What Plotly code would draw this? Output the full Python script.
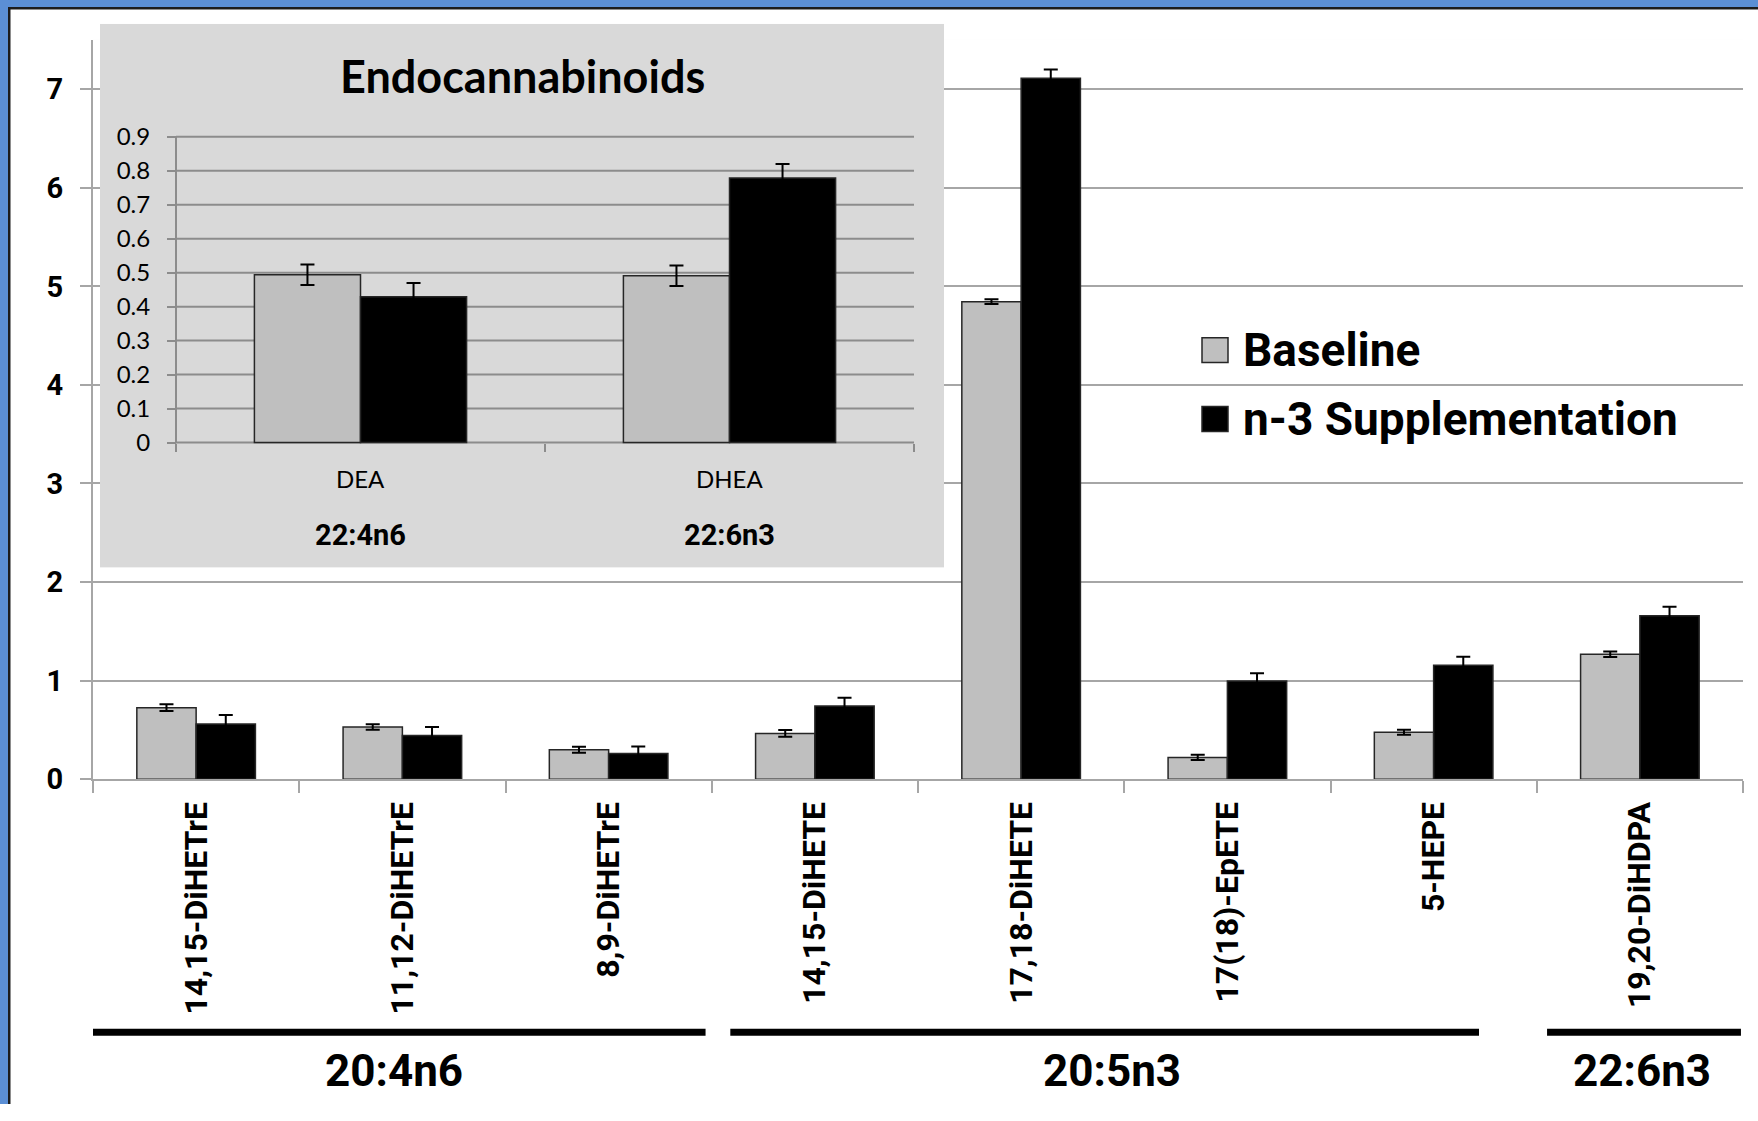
import plotly.graph_objects as go

# ---------------------------------------------------------------- data
CATEGORIES = ["14,15-DiHETrE", "11,12-DiHETrE", "8,9-DiHETrE", "14,15-DiHETE",
              "17,18-DiHETE", "17(18)-EpETE", "5-HEPE", "19,20-DiHDPA"]
SERIES_NAMES = ["Baseline", "n-3 Supplementation"]
BASELINE = [0.725, 0.529, 0.298, 0.464, 4.845, 0.220, 0.476, 1.267]
BASELINE_ERR = [0.034, 0.027, 0.030, 0.034, 0.025, 0.027, 0.025, 0.027]
SUPPLEMENT = [0.559, 0.444, 0.261, 0.742, 7.112, 0.997, 1.155, 1.659]
SUPPLEMENT_ERR = [0.092, 0.085, 0.071, 0.085, 0.088, 0.077, 0.088, 0.090]
Y_TICKS = [0, 1, 2, 3, 4, 5, 6, 7]

# fatty-acid families spanning the categories: (label, first index, last index)
GROUPS = [("20:4n6", 0, 2), ("20:5n3", 3, 6), ("22:6n3", 7, 7)]

INSET_TITLE = "Endocannabinoids"
INSET_CATEGORIES = ["DEA", "DHEA"]
INSET_FATTY_ACIDS = ["22:4n6", "22:6n3"]
INSET_BASELINE = [0.494, 0.491]
INSET_BASELINE_ERR = [0.030, 0.030]
INSET_SUPPLEMENT = [0.429, 0.779]
INSET_SUPPLEMENT_ERR = [0.041, 0.041]
INSET_TICKS = [0, 0.1, 0.2, 0.3, 0.4, 0.5, 0.6, 0.7, 0.8, 0.9]

# ---------------------------------------------------------------- layout constants (px from top-left)
W, H = 1758, 1121
Y_SCALE = 1137 / 1121          # vertical scale applied to every pixel row below
MAIN_L, MAIN_R, MAIN_T, MAIN_B = 93, 1743, 40, 780
Y_MAX = 7.5
BOX_L, BOX_R, BOX_T, BOX_B = 100, 944, 24, 568          # grey inset panel
IN_L, IN_R, IN_TOP_PX, IN_ZERO_PX = 176, 914, 137, 443   # inset plotting frame
BRACKET_PAD = [(-0.02, -0.03), (0.09, -0.28), (0.05, -0.01)]
GROUP_LABEL_SHIFT = [-0.04, -0.06, 0.01]                 # in category widths
BRACKET_Y, LABEL_Y = 1033.5, 1072

GREY = "#bfbfbf"
BLACK = "#000000"
EDGE = "#262626"
GRID = "#a6a6a6"
IN_GRID = "#8c8c8c"
PANEL = "#d9d9d9"
FRAME_BLUE = "#5b8fd5"
SANS = "Roboto, Liberation Sans, Arial, sans-serif"
CALIBRI = "Lato, Carlito, Calibri, sans-serif"


def fx(px):
    return px / W


def fy(px):
    return 1 - px * Y_SCALE / H


# inset axis ranges derived from the pixel frame
in_unit = (IN_ZERO_PX - IN_TOP_PX) / INSET_TICKS[-1]
y2_range = [-(BOX_B - IN_ZERO_PX) / in_unit, INSET_TICKS[-1] + (IN_TOP_PX - BOX_T) / in_unit]
cat_px = (IN_R - IN_L) / len(INSET_CATEGORIES)
x2_range = [-0.5 - (IN_L - BOX_L) / cat_px, len(INSET_CATEGORIES) - 0.5 + (BOX_R - IN_R) / cat_px]

fig = go.Figure()

err_style = dict(type="data", color=BLACK, thickness=2, width=7, visible=True)

for name, vals, errs, col in [(SERIES_NAMES[0], BASELINE, BASELINE_ERR, GREY),
                              (SERIES_NAMES[1], SUPPLEMENT, SUPPLEMENT_ERR, BLACK)]:
    fig.add_trace(go.Bar(
        x=CATEGORIES, y=vals, name=name, showlegend=False,
        marker=dict(color=col, line=dict(color=EDGE, width=1.5)),
        error_y=dict(array=errs, **err_style),
        xaxis="x", yaxis="y", hoverinfo="x+y+name"))

for name, vals, errs, col in [(SERIES_NAMES[0], INSET_BASELINE, INSET_BASELINE_ERR, GREY),
                              (SERIES_NAMES[1], INSET_SUPPLEMENT, INSET_SUPPLEMENT_ERR, BLACK)]:
    fig.add_trace(go.Bar(
        x=INSET_CATEGORIES, y=vals, name=name, showlegend=False,
        marker=dict(color=col, line=dict(color=EDGE, width=1.5)),
        error_y=dict(array=errs, **err_style),
        xaxis="x2", yaxis="y2", hoverinfo="x+y+name"))

shapes = []
annotations = []

# white background for the main plotting area (plot_bgcolor is the inset grey)
shapes.append(dict(type="rect", xref="paper", yref="paper", layer="below",
                   x0=fx(MAIN_L), x1=fx(MAIN_R), y0=fy(MAIN_B), y1=fy(MAIN_T),
                   fillcolor="white", line=dict(width=0)))

# inset gridlines and axis line
for t in INSET_TICKS:
    shapes.append(dict(type="line", xref="x2", yref="y2", layer="below",
                       x0=-0.5, x1=len(INSET_CATEGORIES) - 0.5, y0=t, y1=t,
                       line=dict(color=IN_GRID, width=2)))
shapes.append(dict(type="line", xref="x2", yref="y2", layer="below",
                   x0=-0.5, x1=-0.5, y0=0, y1=INSET_TICKS[-1],
                   line=dict(color=IN_GRID, width=2)))

# inset title and category labels
annotations.append(dict(text="<b>%s</b>" % INSET_TITLE, xref="paper", yref="paper",
                        x=fx((BOX_L + BOX_R) / 2), y=fy(76), showarrow=False,
                        xanchor="center", yanchor="middle",
                        font=dict(family=CALIBRI, size=45, color=BLACK)))
for cat, fa in zip(INSET_CATEGORIES, INSET_FATTY_ACIDS):
    annotations.append(dict(text=cat, xref="x2", yref="paper", x=cat, y=fy(479),
                            showarrow=False, xanchor="center", yanchor="middle",
                            font=dict(family=CALIBRI, size=24, color=BLACK)))
    annotations.append(dict(text="<b>%s</b>" % fa, xref="x2", yref="paper", x=cat, y=fy(536),
                            showarrow=False, xanchor="center", yanchor="middle",
                            font=dict(family=SANS, size=29, color=BLACK)))

# fatty-acid family brackets and labels under the category names
for (label, first, last), (pl, pr), shift in zip(GROUPS, BRACKET_PAD, GROUP_LABEL_SHIFT):
    shapes.append(dict(type="line", xref="x", yref="paper",
                       x0=first - 0.5 + pl, x1=last + 0.5 + pr,
                       y0=fy(BRACKET_Y), y1=fy(BRACKET_Y),
                       line=dict(color=BLACK, width=7)))
    annotations.append(dict(text="<b>%s</b>" % label, xref="x", yref="paper",
                            x=(first + last) / 2 + shift, y=fy(LABEL_Y), showarrow=False,
                            xanchor="center", yanchor="middle",
                            font=dict(family=SANS, size=44, color=BLACK)))

# legend keys
for i, (name, col) in enumerate(zip(SERIES_NAMES, [GREY, BLACK])):
    top = 338 + i * 69
    shapes.append(dict(type="rect", xref="paper", yref="paper",
                       x0=fx(1202), x1=fx(1228), y0=fy(top + 25), y1=fy(top),
                       fillcolor=col, line=dict(color=EDGE, width=1.5)))
    annotations.append(dict(text="<b>%s</b>" % name, xref="paper", yref="paper",
                            x=fx(1241), y=fy(top + 12.5), showarrow=False,
                            xanchor="left", yanchor="middle",
                            font=dict(family=SANS, size=46, color=BLACK)))

# blue slide frame on the top and left edges
shapes += [
    dict(type="rect", xref="paper", yref="paper", x0=0, x1=1, y0=fy(7), y1=1,
         fillcolor=FRAME_BLUE, line=dict(width=0), layer="above"),
    dict(type="rect", xref="paper", yref="paper", x0=0, x1=fx(8), y0=0, y1=1,
         fillcolor=FRAME_BLUE, line=dict(width=0), layer="above"),
    dict(type="rect", xref="paper", yref="paper", x0=fx(8), x1=1, y0=fy(9.5), y1=fy(7),
         fillcolor="#1c1c1c", line=dict(width=0), layer="above"),
    dict(type="rect", xref="paper", yref="paper", x0=fx(8), x1=fx(10.5), y0=0, y1=fy(7),
         fillcolor="#1c1c1c", line=dict(width=0), layer="above"),
]

fig.update_layout(
    width=W, height=H,
    margin=dict(l=0, r=0, t=0, b=0),
    paper_bgcolor="white",
    plot_bgcolor=PANEL,
    barmode="group",
    bargap=0.425,
    bargroupgap=0,
    showlegend=False,
    shapes=shapes,
    annotations=annotations,
    xaxis=dict(
        domain=[fx(MAIN_L), fx(MAIN_R)], anchor="y", type="category",
        categoryorder="array", categoryarray=CATEGORIES,
        range=[-0.5, len(CATEGORIES) - 0.5],
        tickson="boundaries", ticks="outside", ticklen=12, tickwidth=2, tickcolor=GRID,
        showline=True, linecolor=GRID, linewidth=2, showgrid=False,
        tickangle=-90, ticklabelstandoff=8,
        tickfont=dict(family=SANS, size=32, color=BLACK, weight="bold"),
    ),
    yaxis=dict(
        domain=[fy(MAIN_B), fy(MAIN_T)], anchor="x", range=[0, Y_MAX],
        tickvals=Y_TICKS, ticks="outside", ticklen=11, tickwidth=2, tickcolor=GRID,
        showline=True, linecolor=GRID, linewidth=2,
        showgrid=True, gridcolor=GRID, gridwidth=2, zeroline=False,
        ticklabelstandoff=11,
        tickfont=dict(family=SANS, size=29, color=BLACK, weight="bold"),
    ),
    xaxis2=dict(
        domain=[fx(BOX_L), fx(BOX_R)], anchor="free", position=fy(IN_ZERO_PX),
        type="category", categoryorder="array", categoryarray=INSET_CATEGORIES,
        range=x2_range, tickson="boundaries", ticks="outside", ticklen=8,
        tickwidth=2, tickcolor=IN_GRID, showticklabels=False,
        showline=False, showgrid=False, zeroline=False,
    ),
    yaxis2=dict(
        domain=[fy(BOX_B), fy(BOX_T)], anchor="free", position=fx(IN_L),
        range=y2_range, tickvals=INSET_TICKS, ticktext=[("%g" % t) for t in INSET_TICKS],
        ticks="outside", ticklen=9, tickwidth=2, tickcolor=IN_GRID,
        showline=False, showgrid=False, zeroline=False, ticklabelstandoff=12,
        tickfont=dict(family=CALIBRI, size=24, color=BLACK),
    ),
)

fig.write_html("out.html")
